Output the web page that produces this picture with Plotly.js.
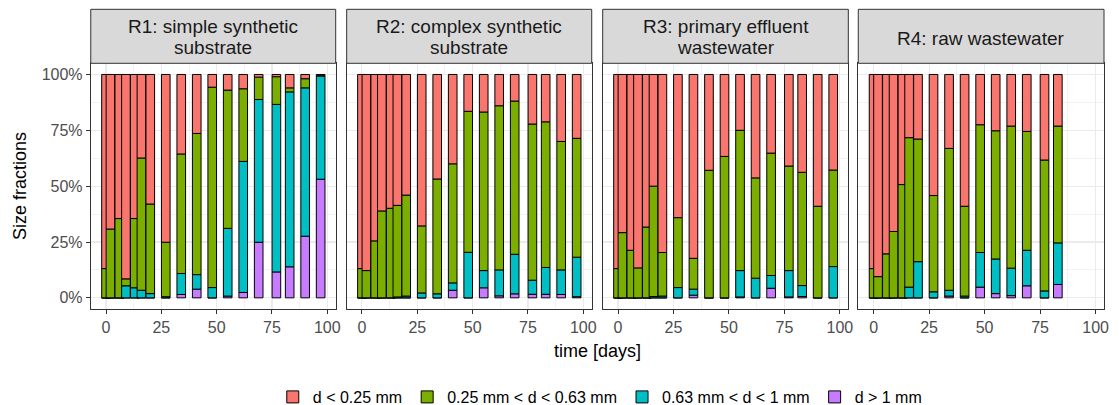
<!DOCTYPE html>
<html>
<head>
<meta charset="utf-8">
<script src="https://cdn.plot.ly/plotly-3.0.1.min.js"></script>
<style>
  html, body { margin: 0; padding: 0; background: #fff; }
  #chart { width: 1119px; height: 405px; }
</style>
</head>
<body>
<div id="chart"></div>
<script>
// Sampling days (R4 has no samples after day 83)
const days = [0, 2, 6, 9, 13, 16, 20, 27, 34, 41, 48, 55, 62, 69, 77, 83, 90, 97];
const daysR4 = [0, 2, 6, 9, 13, 16, 20, 27, 34, 41, 48, 55, 62, 69, 77, 83];

const fractionNames = ['d < 0.25 mm', '0.25 mm < d < 0.63 mm', '0.63 mm < d < 1 mm', 'd > 1 mm'];
const fractionColors = ['#F8766D', '#7CAE00', '#00BFC4', '#C77CFF'];

const reactorTitles = [
  ['R1: simple synthetic', 'substrate'],
  ['R2: complex synthetic', 'substrate'],
  ['R3: primary effluent', 'wastewater'],
  ['R4: raw wastewater']
];

// Size fractions in percent, per reactor
const r1Fine   = [86.9, 69.2, 64.5, 91.5, 64.5, 37.4, 58.0, 75.1, 35.6, 26.4, 5.7, 7.0, 6.4, 1.2, 1.0, 6.0, 1.9, 0.3];
const r1Medium = [13.1, 30.8, 35.5, 3.1, 31.0, 59.2, 40.1, 24.4, 53.5, 63.2, 89.7, 61.9, 32.5, 10.0, 12.4, 1.8, 4.1, 0.4];
const r1Coarse = [0, 0, 0, 5.4, 4.5, 3.4, 1.9, 0.5, 9.4, 6.5, 4.6, 30.3, 58.7, 63.9, 75.0, 78.3, 66.4, 46.2];
const r1Large  = [0, 0, 0, 0, 0, 0, 0, 0, 1.5, 3.9, 0, 0.8, 2.4, 24.9, 11.6, 13.9, 27.6, 53.1];

const r2Fine   = [86.9, 87.8, 74.5, 61.1, 59.9, 58.6, 54.0, 67.8, 46.8, 40.0, 16.5, 16.8, 14.0, 11.9, 22.2, 21.2, 30.0, 28.6];
const r2Medium = [13.1, 12.2, 25.5, 38.9, 40.1, 41.0, 45.2, 30.0, 51.4, 53.3, 63.1, 71.0, 73.5, 68.6, 69.9, 65.2, 57.5, 53.2];
const r2Coarse = [0, 0, 0, 0, 0, 0.4, 0.8, 2.2, 1.8, 3.3, 20.4, 7.7, 11.6, 17.7, 6.3, 12.0, 11.0, 17.7];
const r2Large  = [0, 0, 0, 0, 0, 0, 0, 0, 0, 3.4, 0, 4.5, 0.9, 1.8, 1.6, 1.6, 1.5, 0.5];

const r3Fine   = [86.9, 70.8, 78.7, 86.6, 68.3, 50.0, 79.7, 64.1, 82.3, 42.9, 36.7, 25.0, 46.3, 35.2, 41.0, 43.8, 59.0, 42.8];
const r3Medium = [13.1, 29.2, 21.3, 13.4, 31.7, 49.4, 19.5, 31.3, 13.8, 57.1, 63.3, 62.8, 44.9, 54.8, 46.8, 50.7, 41.0, 43.2];
const r3Coarse = [0, 0, 0, 0, 0, 0.6, 0.8, 4.6, 2.7, 0, 0, 11.8, 8.8, 5.7, 11.8, 4.9, 0, 14.0];
const r3Large  = [0, 0, 0, 0, 0, 0, 0, 0, 1.2, 0, 0, 0.4, 0, 4.3, 0.4, 0.6, 0, 0];

const r4Fine   = [86.9, 90.5, 80.3, 70.3, 49.3, 28.3, 28.9, 54.2, 33.1, 59.0, 22.5, 25.2, 23.1, 25.5, 38.3, 23.1];
const r4Medium = [13.1, 9.5, 19.7, 29.7, 50.7, 66.9, 54.9, 43.1, 63.5, 40.2, 57.2, 57.4, 63.6, 53.2, 58.6, 52.3];
const r4Coarse = [0, 0, 0, 0, 0, 4.8, 16.2, 2.7, 2.6, 0.8, 15.5, 15.5, 12.3, 15.9, 3.1, 18.6];
const r4Large  = [0, 0, 0, 0, 0, 0, 0, 0, 0.8, 0, 4.8, 1.9, 1.0, 5.4, 0, 6.0];

const panels = [
  { times: days,   series: [r1Fine, r1Medium, r1Coarse, r1Large] },
  { times: days,   series: [r2Fine, r2Medium, r2Coarse, r2Large] },
  { times: days,   series: [r3Fine, r3Medium, r3Coarse, r3Large] },
  { times: daysR4, series: [r4Fine, r4Medium, r4Coarse, r4Large] }
];

// Panel geometry (paper fractions)
const xDomains = [[0.0811, 0.3000], [0.3098, 0.5288], [0.5386, 0.7581], [0.7670, 0.9866]];
const yDomain = [0.237, 0.8437];
const stripTop = 0.977;
const barWidth = 3.9;
const FONT = 'Liberation Sans, Arial, Helvetica, sans-serif';

// One trace per sample and fraction so later samples sit on top of earlier ones
const traces = [];
const legendShown = [false, false, false, false];
panels.forEach((panel, p) => {
  const ax = p === 0 ? '' : String(p + 1);
  panel.times.forEach((t, j) => {
    let base = 0;
    [3, 2, 1, 0].forEach(k => {
      const v = panel.series[k][j];
      traces.push({
        type: 'bar',
        x: [t],
        y: [v],
        base: [base],
        width: [barWidth],
        xaxis: 'x' + ax,
        yaxis: 'y' + ax,
        name: fractionNames[k],
        legendgroup: 'f' + k,
        legendrank: k + 1,
        showlegend: !legendShown[k],
        marker: { color: fractionColors[k], line: { color: '#000000', width: 1 } },
        hoverinfo: 'skip'
      });
      legendShown[k] = true;
      base += v;
    });
  });
});

const layout = {
  width: 1119,
  height: 405,
  margin: { l: 0, r: 0, t: 0, b: 0, autoexpand: false },
  paper_bgcolor: '#ffffff',
  plot_bgcolor: '#ffffff',
  barmode: 'overlay',
  font: { family: FONT, color: '#000000' },
  showlegend: true,
  legend: {
    orientation: 'h',
    x: 0.536, xanchor: 'center',
    y: 8 / 405, yanchor: 'middle',
    font: { family: FONT, size: 16, color: '#000000' },
    traceorder: 'normal',
    itemwidth: 30,
    bgcolor: 'rgba(0,0,0,0)'
  },
  shapes: [],
  annotations: []
};

xDomains.forEach((dom, p) => {
  const key = p === 0 ? '' : String(p + 1);
  const grid = { showgrid: true, gridcolor: '#EBEBEB', gridwidth: 0.6 };
  layout['xaxis' + key] = {
    domain: dom,
    anchor: 'y' + key,
    range: [-6.9, 103.8],
    tickmode: 'linear', tick0: 0, dtick: 25,
    ticks: 'outside', ticklen: 4, tickwidth: 1, tickcolor: '#333333',
    tickfont: { family: FONT, size: 16, color: '#4D4D4D' },
    showgrid: true, gridcolor: '#EBEBEB', gridwidth: 1.1,
    minor: Object.assign({ dtick: 12.5, tick0: 0 }, grid),
    showline: true, mirror: true, linecolor: '#333333', linewidth: 1,
    zeroline: false, fixedrange: true
  };
  layout['yaxis' + key] = {
    domain: yDomain,
    anchor: 'x' + key,
    range: [-5, 105],
    tickmode: 'linear', tick0: 0, dtick: 25,
    ticksuffix: '%',
    showticklabels: p === 0,
    ticks: p === 0 ? 'outside' : '',
    ticklen: 4, tickwidth: 1, tickcolor: '#333333',
    tickfont: { family: FONT, size: 16, color: '#4D4D4D' },
    showgrid: true, gridcolor: '#EBEBEB', gridwidth: 1.1,
    minor: Object.assign({ dtick: 12.5, tick0: 0 }, grid),
    showline: true, mirror: true, linecolor: '#333333', linewidth: 1,
    zeroline: false, fixedrange: true
  };

  // Facet strip
  layout.shapes.push({
    type: 'rect', xref: 'paper', yref: 'paper',
    x0: dom[0], x1: dom[1], y0: yDomain[1], y1: stripTop,
    fillcolor: '#D9D9D9', line: { color: '#333333', width: 1 }
  });
  const lines = reactorTitles[p];
  const cx = (dom[0] + dom[1]) / 2;
  const centers = lines.length === 2 ? [26.7, 47.7] : [38.4];
  lines.forEach((txt, i) => {
    layout.annotations.push({
      text: txt, xref: 'paper', yref: 'paper',
      x: cx, y: 1 - centers[i] / 405,
      xanchor: 'center', yanchor: 'middle', showarrow: false,
      font: { family: FONT, size: 19, color: '#1A1A1A' }
    });
  });
});

// Axis titles
layout.annotations.push({
  text: 'time [days]', xref: 'paper', yref: 'paper',
  x: 0.534, y: 1 - 351 / 405, xanchor: 'center', yanchor: 'middle',
  showarrow: false, font: { family: FONT, size: 18, color: '#000000' }
});
layout.annotations.push({
  text: 'Size fractions', xref: 'paper', yref: 'paper',
  x: 20 / 1119, y: 1 - 186 / 405, xanchor: 'center', yanchor: 'middle',
  textangle: -90, showarrow: false,
  font: { family: FONT, size: 18, color: '#000000' }
});

Plotly.newPlot('chart', traces, layout, { displayModeBar: false, staticPlot: true });
</script>
</body>
</html>
